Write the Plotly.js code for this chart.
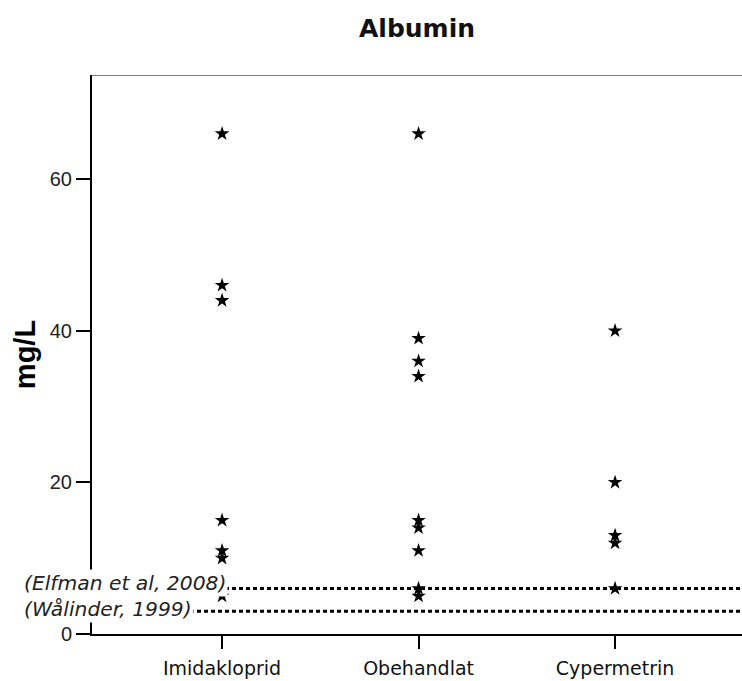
<!DOCTYPE html>
<html>
<head>
<meta charset="utf-8">
<script src="https://cdn.plot.ly/plotly-3.0.1.min.js"></script>
<style>html,body{margin:0;padding:0;background:#fff;}#chart{width:742px;height:681px;}</style>
</head>
<body>
<div id="chart"></div>
<script>
// ---- data ----
const categories = ["Imidakloprid", "Obehandlat", "Cypermetrin"];
const imidaklopridValues = [66, 46, 44, 15, 11, 10, 5];
const obehandlatValues = [66, 39, 36, 34, 15, 14, 11, 6, 5];
const cypermetrinValues = [40, 20, 13, 12, 6];
const refLabels = ["(Elfman et al, 2008)", "(Wålinder, 1999)"];
const refValues = [6, 3];
const yTickValues = [0, 20, 40, 60];
const chartTitle = "Albumin";
const yTitle = "mg/L";

const groups = [imidaklopridValues, obehandlatValues, cypermetrinValues];
const traces = groups.map((vals, i) => ({
  type: "scatter",
  mode: "markers",
  x: vals.map(() => categories[i]),
  y: vals,
  marker: {symbol: "star", size: 11, color: "#000", line: {width: 0}},
  hoverinfo: "x+y",
  showlegend: false
}));

const yTop = 73.75;
const shapes = refValues.map(v => ({
  type: "line", xref: "paper", yref: "y", x0: 0, x1: 1, y0: v, y1: v,
  line: {color: "#000", width: 3, dash: "4px,3px"}, layer: "above"
}));
shapes.push({type: "line", xref: "paper", yref: "y", x0: 0, x1: 1, y0: yTop, y1: yTop,
  line: {color: "#7a7a7a", width: 2}, layer: "above"});

const yShifts = [6, 2];
const annotations = refLabels.map((t, i) => ({
  text: t, xref: "paper", yref: "y", x: -0.108, y: refValues[i], yshift: yShifts[i],
  xanchor: "left", yanchor: "middle", showarrow: false,
  font: {family: "DejaVu Sans", size: 20.3, color: "#222", style: "italic"},
  bgcolor: "#fff", borderpad: 1
}));

const layout = {
  width: 742, height: 681,
  margin: {l: 92, r: 0, t: 75, b: 46.5},
  paper_bgcolor: "#fff", plot_bgcolor: "#fff",
  title: {text: chartTitle, x: 0.5, xref: "paper", y: 0.958, yanchor: "middle",
    font: {family: "DejaVu Sans", size: 25, color: "#111", weight: "bold"}},
  xaxis: {
    type: "category", categoryarray: categories, range: [-0.662, 2.646],
    showgrid: false, zeroline: false, showline: true, linecolor: "#000", linewidth: 2,
    ticks: "outside", ticklen: 13, tickwidth: 2, tickcolor: "#000", ticklabelstandoff: 3,
    tickfont: {family: "DejaVu Sans", size: 19, color: "#111"}, fixedrange: true
  },
  yaxis: {
    range: [0, yTop], tickvals: yTickValues, ticktext: yTickValues.map(String),
    showgrid: false, zeroline: false, showline: true, linecolor: "#000", linewidth: 2,
    ticks: "outside", ticklen: 14, tickwidth: 2, tickcolor: "#000",
    tickfont: {family: "Liberation Sans", size: 20, color: "#222"},
    title: {text: yTitle, standoff: 6, font: {family: "Liberation Sans", size: 29, color: "#000", weight: "bold"}},
    fixedrange: true
  },
  shapes: shapes,
  annotations: annotations,
  showlegend: false
};

Plotly.newPlot("chart", traces, layout, {displayModeBar: false, staticPlot: true});
</script>
</body>
</html>
